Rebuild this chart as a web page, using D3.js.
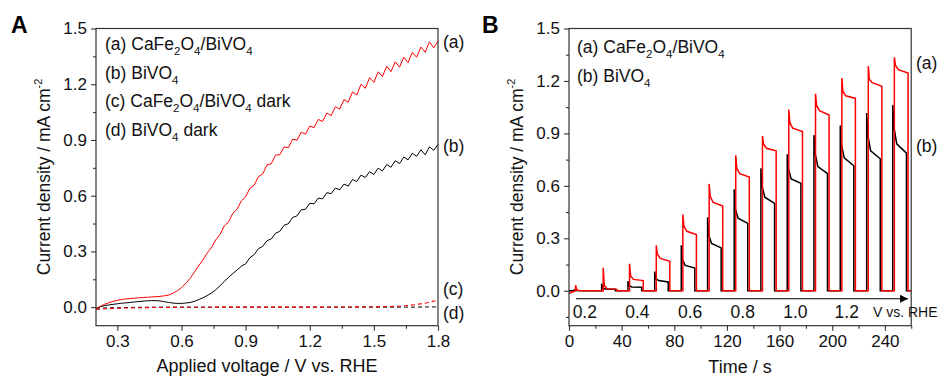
<!DOCTYPE html>
<html><head><meta charset="utf-8">
<script src="https://cdn.jsdelivr.net/npm/d3@7"></script>
<style>
html,body{margin:0;padding:0;background:#fff;}
svg{display:block;font-family:"Liberation Sans",Arial,sans-serif;}
</style></head>
<body>
<svg id="chart" width="940" height="377"></svg>
<script>
// ---------- Panel A data (LSV) ----------
const voltA = [0.20,0.22,0.24,0.26,0.28,0.30,0.32,0.34,0.36,0.38,0.40,0.42,0.44,0.46,0.48,0.50,0.52,0.54,0.56,0.58,
0.60,0.62,0.64,0.66,0.68,0.70,0.72,0.74,0.76,0.78,0.80,0.82,0.84,0.86,0.88,0.90,0.92,0.94,0.96,0.98,
1.00,1.02,1.04,1.06,1.08,1.10,1.12,1.14,1.16,1.18,1.20,1.22,1.24,1.26,1.28,1.30,1.32,1.34,1.36,1.38,
1.40,1.42,1.44,1.46,1.48,1.50,1.52,1.54,1.56,1.58,1.60,1.62,1.64,1.66,1.68,1.70,1.72,1.74,1.76,1.78,1.80];
const lightCaFe = [-0.008,0.004,0.015,0.024,0.031,0.037,0.041,0.044,0.046,0.048,0.050,0.052,0.053,0.055,0.056,0.058,0.061,0.065,0.075,0.088,
0.105,0.128,0.155,0.187,0.222,0.254,0.291,0.321,0.362,0.391,0.436,0.459,0.505,0.527,0.572,0.594,0.640,0.656,0.703,0.717,
0.766,0.772,0.818,0.821,0.862,0.858,0.904,0.899,0.942,0.931,0.975,0.966,1.011,0.999,1.045,1.031,1.079,1.066,1.117,1.103,
1.158,1.142,1.200,1.178,1.235,1.210,1.267,1.242,1.297,1.268,1.321,1.292,1.346,1.316,1.372,1.345,1.400,1.372,1.428,1.396,1.432];
const lightBiVO = [-0.006,0.002,0.008,0.012,0.015,0.018,0.021,0.023,0.025,0.028,0.030,0.032,0.034,0.035,0.035,0.033,0.029,0.025,0.022,0.020,
0.020,0.022,0.025,0.031,0.040,0.050,0.062,0.076,0.093,0.115,0.138,0.160,0.181,0.200,0.220,0.233,0.266,0.283,0.315,0.327,
0.358,0.367,0.398,0.408,0.441,0.449,0.483,0.491,0.524,0.527,0.559,0.556,0.587,0.583,0.616,0.611,0.641,0.632,0.662,0.652,
0.687,0.676,0.711,0.698,0.729,0.714,0.748,0.733,0.768,0.753,0.788,0.773,0.808,0.793,0.828,0.812,0.847,0.820,0.863,0.844,0.876];
const voltDark = [0.20,0.25,0.30,0.40,0.50,0.60,0.80,1.00,1.20,1.40,1.50,1.60,1.65,1.70,1.75,1.80];
const darkCaFe = [-0.013,-0.009,-0.006,-0.003,-0.002,-0.001,0,0,0,0.001,0.002,0.004,0.008,0.014,0.024,0.038];
const darkBiVO = [-0.006,-0.004,-0.003,-0.001,0,0,0,0,0,0,0,0,0,0,0.001,0.001];
const xTicksA = [0.3,0.6,0.9,1.2,1.5,1.8];
const yTicks = [0.0,0.3,0.6,0.9,1.2,1.5];
const legendA = ["(a) CaFe_2O_4/BiVO_4","(b) BiVO_4","(c) CaFe_2O_4/BiVO_4 dark","(d) BiVO_4 dark"];
const sideLabelsA = ["(a)","(b)","(c)","(d)"];
const sideLabelsAy = [1.43,0.87,0.095,-0.03];

// ---------- Panel B data (chopped light) ----------
const onRed  = [5,26,46,66.3,86.5,106.5,126.7,147,167,187.3,207.3,227.4,247.2];
const offRed = [15.4,36.4,56.4,76.6,96.8,116.8,137,157.4,177.4,197.6,217.6,237.7,257.6];
const onBlack  = [4,24.8,44.8,65.1,85.3,105.3,125.5,145.8,165.8,186.1,206.1,226.2,246];
const offBlack = [14.2,35.2,55.2,75.4,95.6,115.6,135.8,156.2,176.2,196.4,216.4,236.5,256.4];
const spikeRed = [0.032,0.131,0.154,0.259,0.436,0.611,0.775,0.885,1.036,1.127,1.217,1.285,1.335];
const midRed   = [0.005,0.030,0.085,0.210,0.370,0.540,0.700,0.840,0.960,1.060,1.140,1.210,1.290];
const levelRed = [0.000,0.012,0.065,0.185,0.340,0.505,0.670,0.815,0.930,1.030,1.115,1.190,1.265];
const endRed   = [0.000,0.008,0.058,0.168,0.322,0.484,0.650,0.800,0.910,1.005,1.100,1.170,1.245];
const spikeBlack = [0.004,0.040,0.055,0.110,0.260,0.420,0.580,0.700,0.780,0.890,0.945,1.017,1.063];
const midBlack   = [0.002,0.015,0.030,0.070,0.180,0.320,0.470,0.600,0.700,0.790,0.840,0.890,0.940];
const levelBlack = [0.001,0.010,0.022,0.058,0.145,0.270,0.415,0.535,0.640,0.710,0.760,0.800,0.840];
const endBlack   = [0.000,0.008,0.020,0.050,0.130,0.245,0.385,0.500,0.615,0.670,0.715,0.755,0.787];
const midDelay = 0.8, levelDelay = 3.0;   // seconds after light-on
const xTicksB = [0,40,80,120,160,200,240];
const biasLabels = ["0.2","0.4","0.6","0.8","1.0","1.2"];
const biasTimes = [12,52,92,132,172,211];
const arrowStartT = 5.3, arrowEndT = 257.6, arrowY = -0.046;
const legendB = ["(a) CaFe_2O_4/BiVO_4","(b) BiVO_4"];
const sideLabelsB = ["(a)","(b)"];
const sideLabelsBy = [1.30,0.83];

// ---------- drawing ----------
const svg = d3.select("#chart");
const FONT = 17;
const LFONT = 17.5;
const AX = "#333";

function richText(sel, str, size){
  // "_d" => subscript digit
  const parts = str.split(/(_\d)/).filter(s=>s.length);
  let sub=false;
  parts.forEach(p=>{
    if(p[0]==="_"){
      sel.append("tspan").attr("font-size",size*0.66).attr("dy",5).text(p.slice(1));
      sub=true;
    } else {
      sel.append("tspan").attr("dy",sub?-5:0).text(p);
      sub=false;
    }
  });
}

function frame(g, x, y, xMajor, xMinor, yMajor, yMinor, fmtX, fmtY){
  const [x0,x1]=x.range(), [y0,y1]=y.range();
  g.append("g").attr("transform",`translate(0,${y0})`)
    .call(d3.axisBottom(x).tickValues(xMinor).tickSize(3).tickFormat(""))
    .call(a=>a.selectAll("path").remove()).selectAll("line").attr("stroke",AX).attr("stroke-width",1.1);
  g.append("g").attr("transform",`translate(${x0},0)`)
    .call(d3.axisLeft(y).tickValues(yMinor).tickSize(3).tickFormat(""))
    .call(a=>a.selectAll("path").remove()).selectAll("line").attr("stroke",AX).attr("stroke-width",1.1);
  const gx = g.append("g").attr("transform",`translate(0,${y0})`)
    .call(d3.axisBottom(x).tickValues(xMajor).tickSize(5).tickPadding(4).tickFormat(fmtX));
  gx.select("path").remove();
  gx.selectAll("line").attr("stroke",AX).attr("stroke-width",1.1);
  gx.selectAll("text").attr("font-size",FONT).attr("fill","#111").attr("font-family","Liberation Sans, Arial, sans-serif");
  const gy = g.append("g").attr("transform",`translate(${x0},0)`)
    .call(d3.axisLeft(y).tickValues(yMajor).tickSize(5).tickPadding(4).tickFormat(fmtY));
  gy.select("path").remove();
  gy.selectAll("line").attr("stroke",AX).attr("stroke-width",1.1);
  gy.selectAll("text").attr("font-size",FONT).attr("fill","#111").attr("font-family","Liberation Sans, Arial, sans-serif");
  g.append("rect").attr("x",x0).attr("y",y1).attr("width",x1-x0).attr("height",y0-y1)
    .attr("fill","none").attr("stroke",AX).attr("stroke-width",1.2);
}

function yTitle(g, cx, cy){
  const t = g.append("text").attr("transform",`translate(${cx},${cy}) rotate(-90)`)
    .attr("text-anchor","middle").attr("font-size",17.5).attr("fill","#111");
  t.append("tspan").text("Current density / mA cm");
  t.append("tspan").attr("font-size",11).attr("dy",-8).text("-2");
}

// ===== Panel A =====
const gA = svg.append("g");
const xA = d3.scaleLinear().domain([0.2,1.8]).range([96,438]);
const yA = d3.scaleLinear().domain([-0.1,1.5]).range([325.7,28.5]);
const lineA = (xs,ys)=>d3.line().x((d,i)=>xA(xs[i])).y(d=>yA(d))(ys);
gA.append("path").attr("d",lineA(voltDark,darkBiVO)).attr("fill","none").attr("stroke","#000").attr("stroke-width",1).attr("stroke-dasharray","4,3");
gA.append("path").attr("d",lineA(voltDark,darkCaFe)).attr("fill","none").attr("stroke","#ff0000").attr("stroke-width",1.1).attr("stroke-dasharray","4,3");
gA.append("path").attr("d",lineA(voltA,lightBiVO)).attr("fill","none").attr("stroke","#000").attr("stroke-width",1).attr("stroke-linejoin","round");
gA.append("path").attr("d",lineA(voltA,lightCaFe)).attr("fill","none").attr("stroke","#ff0000").attr("stroke-width",1).attr("stroke-linejoin","round");
frame(gA,xA,yA,xTicksA,[0.45,0.75,1.05,1.35,1.65],yTicks,[0.15,0.45,0.75,1.05,1.35],d3.format(".1f"),d3.format(".1f"));
legendA.forEach((s,i)=>{
  const t=gA.append("text").attr("x",105).attr("y",50+i*28.5).attr("font-size",LFONT).attr("fill","#111");
  richText(t,s,LFONT);
});
sideLabelsA.forEach((s,i)=>{
  gA.append("text").attr("x",443).attr("y",yA(sideLabelsAy[i])+6).attr("font-size",LFONT).attr("fill","#111").text(s);
});
gA.append("text").attr("x",(96+438)/2).attr("y",372).attr("text-anchor","middle").attr("font-size",18).attr("fill","#111").text("Applied voltage / V vs. RHE");
yTitle(gA,50,177);
svg.append("text").attr("x",11).attr("y",33).attr("font-size",23).attr("font-weight","bold").attr("fill","#000").text("A");

// ===== Panel B =====
const gB = svg.append("g");
const xB = d3.scaleLinear().domain([0,260]).range([569,911.2]);
const yB = d3.scaleLinear().domain([-0.2,1.5]).range([325.7,28.5]);
function transient(on,off,sp,mid,lev,end,start){
  const pts=[[0,start]];
  on.forEach((t,i)=>{
    pts.push([t,0],[t,sp[i]],[t+midDelay,mid[i]],[t+levelDelay,lev[i]],[off[i],end[i]],[off[i],0]);
  });
  pts.push([260,0]);
  return d3.line().x(d=>xB(d[0])).y(d=>yB(d[1]))(pts);
}
gB.append("path").attr("d",transient(onBlack,offBlack,spikeBlack,midBlack,levelBlack,endBlack,0)).attr("fill","none").attr("stroke","#000").attr("stroke-width",1.5);
gB.append("path").attr("d",transient(onRed,offRed,spikeRed,midRed,levelRed,endRed,-0.015)).attr("fill","none").attr("stroke","#ff0000").attr("stroke-width",1.5);
frame(gB,xB,yB,xTicksB,[20,60,100,140,180,220,260],yTicks,[-0.15,0.15,0.45,0.75,1.05,1.35],d3.format("d"),d3.format(".1f"));
// bias arrow
svg.append("defs").append("marker").attr("id","arr").attr("viewBox","0 0 10 10").attr("refX",10).attr("refY",5)
  .attr("markerWidth",10).attr("markerHeight",8).attr("markerUnits","userSpaceOnUse").attr("orient","auto")
  .append("path").attr("d","M0,0L10,5L0,10Z").attr("fill","#000");
gB.append("line").attr("x1",xB(arrowStartT)).attr("x2",xB(arrowEndT)).attr("y1",yB(arrowY)).attr("y2",yB(arrowY))
  .attr("stroke","#000").attr("stroke-width",1.1).attr("marker-end","url(#arr)");
biasLabels.forEach((s,i)=>{
  gB.append("text").attr("x",xB(biasTimes[i])).attr("y",318).attr("text-anchor","middle").attr("font-size",17.5).attr("fill","#111").text(s);
});
gB.append("text").attr("x",873).attr("y",317).attr("font-size",14).attr("fill","#111").text("V vs. RHE");
legendB.forEach((s,i)=>{
  const t=gB.append("text").attr("x",577).attr("y",53+i*29).attr("font-size",LFONT).attr("fill","#111");
  richText(t,s,LFONT);
});
sideLabelsB.forEach((s,i)=>{
  gB.append("text").attr("x",916).attr("y",yB(sideLabelsBy[i])+6).attr("font-size",LFONT).attr("fill","#111").text(s);
});
gB.append("text").attr("x",(569+911)/2).attr("y",373).attr("text-anchor","middle").attr("font-size",18).attr("fill","#111").text("Time / s");
yTitle(gB,523,177);
svg.append("text").attr("x",482).attr("y",33).attr("font-size",23).attr("font-weight","bold").attr("fill","#000").text("B");
</script>
</body></html>
